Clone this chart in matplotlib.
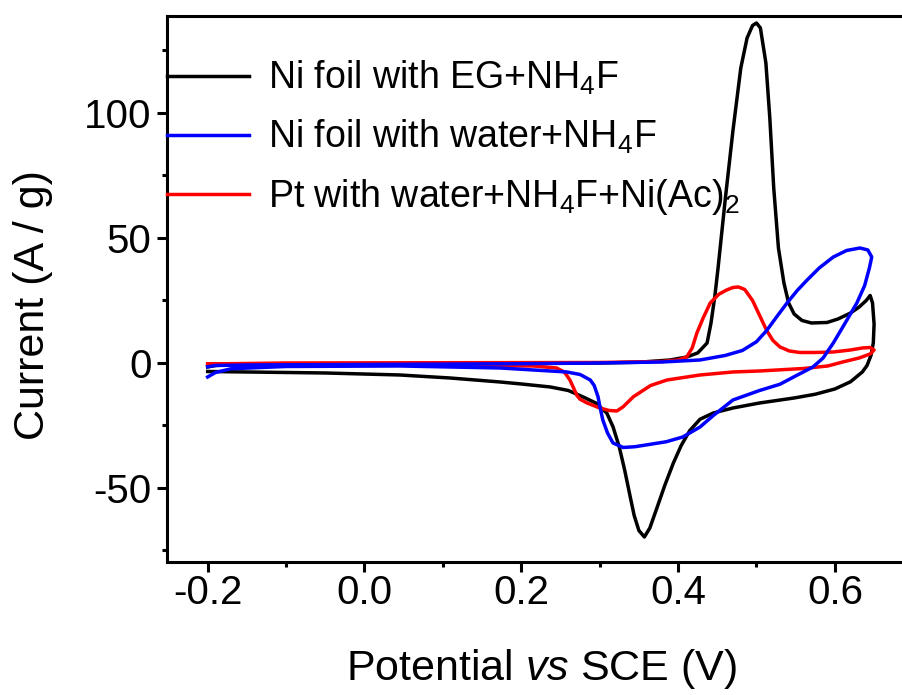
import numpy as np
import matplotlib
matplotlib.use("Agg")
import matplotlib.pyplot as plt
from matplotlib.ticker import MultipleLocator

plt.rcParams['font.family'] = ['Liberation Sans', 'DejaVu Sans']
plt.rcParams['mathtext.fontset'] = 'custom'
plt.rcParams['mathtext.rm'] = 'Liberation Sans'
plt.rcParams['mathtext.it'] = 'Liberation Sans:italic'
plt.rcParams['axes.unicode_minus'] = False

# CV loops: potential (V vs SCE) and current (A/g), forward scan then reverse
ni_eg_v = [-0.200, -0.190, -0.170, -0.100, 0.000, 0.100, 0.200, 0.300, 0.350, 0.390,
           0.411, 0.425, 0.437, 0.442, 0.447, 0.451, 0.460, 0.470, 0.480, 0.488,
           0.495, 0.500, 0.505, 0.512, 0.517, 0.522, 0.528, 0.535, 0.541, 0.548,
           0.558, 0.570, 0.590, 0.604, 0.620, 0.631, 0.640, 0.645,
           0.648, 0.650, 0.649, 0.646, 0.641, 0.635, 0.620, 0.600, 0.575, 0.548,
           0.504, 0.470, 0.445, 0.428, 0.415, 0.404, 0.394, 0.383, 0.373, 0.364,
           0.357, 0.350, 0.344, 0.339, 0.332, 0.325, 0.317, 0.309, 0.295, 0.279,
           0.260, 0.237, 0.200, 0.173, 0.109, 0.045, -0.050, -0.150, -0.200]
ni_eg_i = [-1.6, -1.0, -0.7, -0.5, -0.4, -0.3, -0.2, 0.0, 0.3, 1.2,
           2.4, 4.0, 8.0, 16.0, 27.0, 38.0, 65.0, 93.0, 118.0, 130.0,
           135.0, 136.0, 134.0, 120.0, 98.0, 70.0, 46.0, 32.0, 24.0, 19.6,
           17.0, 16.0, 16.2, 17.6, 20.0, 22.4, 25.0, 27.0,
           24.0, 15.6, 8.0, 3.0, -1.0, -3.6, -7.5, -10.4, -12.5, -14.0,
           -16.0, -18.0, -20.0, -22.5, -27.0, -33.0, -40.0, -49.0, -58.0, -66.0,
           -69.6, -67.0, -61.0, -53.6, -43.0, -33.6, -25.5, -20.0, -16.0, -13.6,
           -11.0, -9.6, -8.4, -7.6, -6.0, -4.8, -4.0, -3.6, -3.4]

ni_water_v = [-0.200, -0.190, -0.150, 0.000, 0.200, 0.300, 0.380, 0.428, 0.460, 0.482,
              0.500, 0.513, 0.527, 0.539, 0.552, 0.564, 0.580, 0.598, 0.615, 0.632,
              0.642, 0.647,
              0.644, 0.638, 0.628, 0.615, 0.598, 0.585, 0.572, 0.548, 0.530, 0.504,
              0.470, 0.445, 0.428, 0.406, 0.385, 0.365, 0.345, 0.330, 0.317, 0.310,
              0.304, 0.300, 0.298, 0.293, 0.288, 0.275, 0.258, 0.173, 0.045, -0.100,
              -0.170, -0.190, -0.200]
ni_water_i = [-1.5, -1.0, -0.8, -0.6, -0.3, 0.0, 0.4, 1.2, 3.0, 5.0,
              8.5, 13.0, 19.0, 24.0, 29.0, 33.0, 38.0, 42.4, 45.0, 46.0,
              45.2, 42.4,
              38.0, 31.0, 24.0, 17.0, 8.0, 2.0, -1.6, -5.5, -8.5, -11.0,
              -14.8, -21.0, -25.6, -29.6, -31.5, -32.5, -33.5, -33.8, -32.0, -28.0,
              -22.8, -17.0, -13.6, -9.0, -6.8, -4.6, -3.6, -2.0, -1.2, -1.4,
              -2.3, -3.8, -5.6]

pt_water_v = [-0.200, -0.100, 0.100, 0.300, 0.380, 0.400, 0.411, 0.418, 0.424, 0.432,
              0.441, 0.452, 0.462, 0.470, 0.477, 0.485, 0.495, 0.504, 0.513, 0.521,
              0.530, 0.542, 0.555, 0.575, 0.598, 0.620, 0.635, 0.645, 0.650,
              0.645, 0.631, 0.610, 0.591, 0.560, 0.504, 0.470, 0.428, 0.386, 0.365,
              0.343, 0.330, 0.322, 0.312, 0.300, 0.284, 0.275, 0.271, 0.266, 0.262,
              0.255, 0.245, 0.215, 0.100, 0.000, -0.100, -0.200]
pt_water_i = [-0.4, 0.0, 0.1, 0.2, 0.6, 1.2, 2.4, 6.0, 12.0, 18.0,
              24.0, 27.5, 29.2, 30.2, 30.4, 29.4, 25.0, 19.0, 13.0, 9.0,
              6.4, 4.8, 4.2, 4.2, 4.4, 5.2, 6.0, 6.2, 5.2,
              3.6, 2.0, 0.4, -1.2, -2.2, -3.2, -3.6, -4.8, -6.8, -9.0,
              -13.5, -17.5, -19.2, -19.0, -18.0, -16.0, -14.5, -13.0, -9.5, -6.8,
              -3.6, -2.0, -1.2, -0.9, -0.8, -0.7, -0.6]

labels = ['Ni foil with EG+NH$_4$F',
          'Ni foil with water+NH$_4$F',
          'Pt with water+NH$_4$F+Ni(Ac)$_2$']

fig = plt.figure(figsize=(9.02, 6.95), dpi=100)
ax = fig.add_axes([0.1851, 0.1914, 0.8149, 0.7856])

lw = 2.5
l1, = ax.plot(ni_eg_v, ni_eg_i, color='black', lw=lw, zorder=2, solid_joinstyle='round')
l3, = ax.plot(pt_water_v, pt_water_i, color='#ff0000', lw=lw, zorder=3, solid_joinstyle='round')
l2, = ax.plot(ni_water_v, ni_water_i, color='#0000ff', lw=lw, zorder=4, solid_joinstyle='round')

ax.set_xlim(-0.2519, 0.6856)
ax.set_ylim(-79.6, 138.8)

ax.xaxis.set_major_locator(MultipleLocator(0.2))
ax.xaxis.set_minor_locator(MultipleLocator(0.1))
ax.yaxis.set_major_locator(MultipleLocator(50))
ax.yaxis.set_minor_locator(MultipleLocator(25))
ax.xaxis.set_major_formatter(plt.FuncFormatter(lambda v, p: f'{v:.1f}'))

ax.tick_params(which='both', direction='out', width=2.2, labelsize=29,
               top=False, right=False)
ax.tick_params(which='major', length=7, pad=4)
ax.tick_params(axis='x', which='major', pad=2)
ax.tick_params(which='minor', length=3.5)

for side in ['left', 'bottom', 'top']:
    ax.spines[side].set_linewidth(2.2)
ax.spines['right'].set_visible(False)

ax.set_xlabel('Potential $\\mathit{vs}$ SCE (V)', fontsize=31)
ax.set_ylabel('Current (A / g)', fontsize=31)
ax.xaxis.set_label_coords(0.510, -0.156)
ax.yaxis.set_label_coords(-0.155, 0.471)

ax.legend([l1, l2, l3], labels, loc='upper left', bbox_to_anchor=(0.0, 0.921),
          frameon=False, fontsize=27, handlelength=2.2, handletextpad=0.5,
          borderaxespad=0, borderpad=0, labelspacing=0.55)

fig.savefig('out.png', dpi=100)
